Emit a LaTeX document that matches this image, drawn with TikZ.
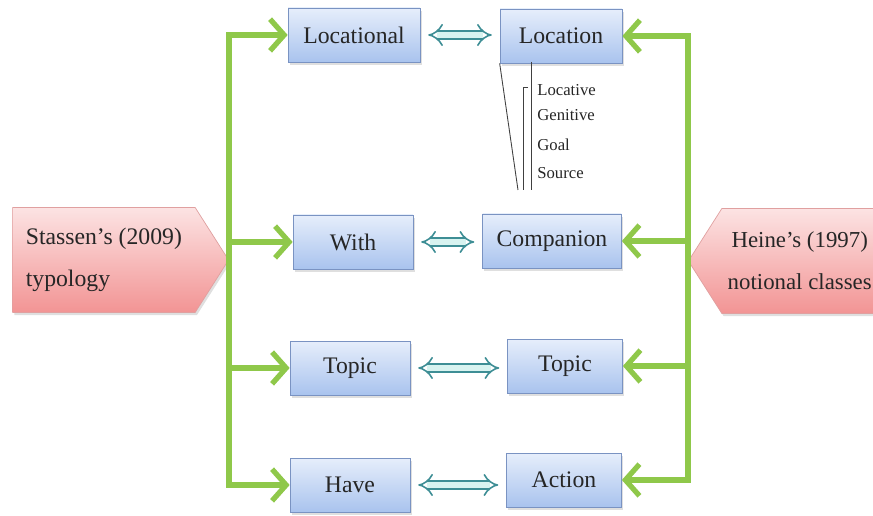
\documentclass[tikz,border=0pt]{standalone}
\usepackage{fontspec}
\setmainfont{Liberation Serif}
\usetikzlibrary{arrows.meta,shapes.symbols,shadows,positioning}
\definecolor{grn}{HTML}{8FC84A}
\definecolor{bxtop}{HTML}{E6EEFB}
\definecolor{bxbot}{HTML}{A9C3EE}
\definecolor{bxline}{HTML}{7A93C2}
\definecolor{pktop}{HTML}{FCE3E3}
\definecolor{pkbot}{HTML}{F29494}
\definecolor{pkline}{HTML}{E0A0A0}
\definecolor{dbl}{HTML}{3E8E95}
\definecolor{dblin}{HTML}{D8F3F0}

\begin{document}
\begin{tikzpicture}[x=0.02cm, y=-0.02cm,
  box/.style={draw=bxline, top color=bxtop, bottom color=bxbot, minimum width=2.4cm, minimum height=1.08cm, font=\fontsize{13.5}{16}\selectfont, text=black!85, drop shadow={opacity=0.25, shadow xshift=1pt, shadow yshift=-1.5pt}},
  tag/.style={shape=signal, draw=pkline, top color=pktop, bottom color=pkbot, minimum height=2.1cm, signal pointer angle=115, font=\fontsize{13.5}{24}\selectfont, text=black!85, drop shadow={opacity=0.25, shadow xshift=1pt, shadow yshift=-1.5pt}},
  feed/.style={draw=grn, line width=3pt, -{Straight Barb[length=8pt,width=18pt]}},
  bus/.style={draw=grn, line width=3pt, line cap=rect},
  pair/.style={draw=dbl, double=dblin, double distance=3.5pt, line width=0.9pt, {Implies}-{Implies}, shorten <=4.5pt, shorten >=4.5pt},
  twig/.style={draw=black!75, line width=0.5pt},
  case/.style={anchor=west, inner sep=0pt, font=\fontsize{9.5}{11}\selectfont, text=black!85}]
  \useasboundingbox (0,0) rectangle (873,516);

  \node[tag, signal to=east, minimum width=4.32cm, align=left, anchor=east] (stassen) at (229,260) {Stassen’s (2009)\\typology};
  \node[tag, signal to=west, minimum width=3.74cm, align=center, anchor=west, font=\fontsize{13}{24}\selectfont] (heine) at (688,261) {Heine’s (1997)\\notional classes};

  \node[box, minimum width=2.64cm] (loctnl) at (354,35) {Locational};
  \node[box, minimum width=2.44cm] (locn) at (561,36) {Location};
  \node[box] (with) at (353,242) {With};
  \node[box, minimum width=2.78cm] (comp) at (552,241) {Companion};
  \node[box] (topic1) at (350,368) {Topic};
  \node[box, minimum width=2.3cm] (topic2) at (565,366) {Topic};
  \node[box] (have) at (350,485) {Have};
  \node[box, minimum width=2.3cm] (action) at (564,480) {Action};

  \draw[pair] (loctnl.east) -- (loctnl.east -| locn.west);
  \draw[pair] (with.east) -- (with.east -| comp.west);
  \draw[pair] (topic1.east) -- (topic1.east -| topic2.west);
  \draw[pair] (have.east) -- (have.east -| action.west);

  \draw[bus] (loctnl.west -| stassen.east) -- (have.west -| stassen.east);
  \draw[feed] (loctnl.west -| stassen.east) -- (loctnl.west);
  \draw[feed] (with.west -| stassen.east) -- (with.west);
  \draw[feed] (topic1.west -| stassen.east) -- (topic1.west);
  \draw[feed] (have.west -| stassen.east) -- (have.west);

  \draw[bus] (locn.east -| heine.west) -- (action.east -| heine.west);
  \draw[feed] (locn.east -| heine.west) -- (locn.east);
  \draw[feed] (comp.east -| heine.west) -- (comp.east);
  \draw[feed] (topic2.east -| heine.west) -- (topic2.east);
  \draw[feed] (action.east -| heine.west) -- (action.east);

  \node[case] (lcv) at (537,90) {Locative};
  \node[case] (gen) at (537,115) {Genitive};
  \node[case] (goal) at (537,145) {Goal};
  \node[case] (src) at (537,173) {Source};
  \draw[twig] (locn.south west) -- (518,190);
  \draw[twig] (531,62) -- (531,190);
  \draw[twig] (528,87) -- (523,87) -- (523,190);
\end{tikzpicture}
\end{document}
